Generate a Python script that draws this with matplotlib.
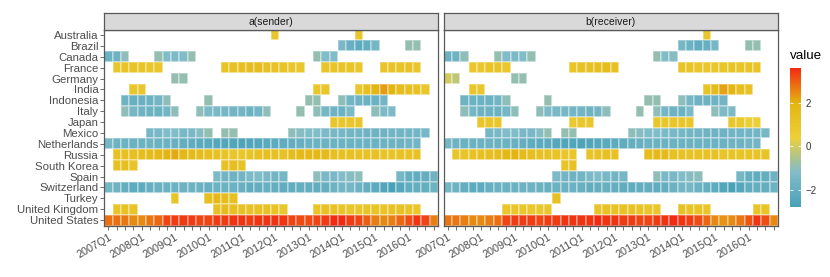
import numpy as np
import matplotlib
matplotlib.use("Agg")
import matplotlib.pyplot as plt
from matplotlib.colors import LinearSegmentedColormap, Normalize, to_rgb

plt.rcParams['font.family'] = ['Liberation Sans', 'DejaVu Sans']

N = np.nan

countries = ["Australia", "Brazil", "Canada", "France", "Germany", "India",
             "Indonesia", "Italy", "Japan", "Mexico", "Netherlands", "Russia",
             "South Korea", "Spain", "Switzerland", "Turkey", "United Kingdom",
             "United States"]
quarters = [f"{y}Q{q}" for y in range(2007, 2017) for q in range(1, 5)]

# --- a(sender): one value per quarter, 2007Q1 .. 2016Q4 ---
s_australia = [N, N, N, N, N, N, N, N, N, N,
               N, N, N, N, N, N, N, N, N, N,
               1.0, N, N, N, N, N, N, N, N, N,
               1.0, N, N, N, N, N, N, N, N, N]
s_brazil = [N, N, N, N, N, N, N, N, N, N,
            N, N, N, N, N, N, N, N, N, N,
            N, N, N, N, N, N, N, N, -1.4, -1.9,
            -2.2, -2.0, -1.5, N, N, N, -0.9, -0.9, N, N]
s_canada = [-1.8, -1.7, -1.0, N, N, N, -0.9, -1.2, -1.3, -1.2,
            -0.9, N, N, N, N, N, N, N, N, N,
            N, N, N, N, N, -0.9, -1.2, -1.2, N, N,
            N, N, N, N, N, N, N, N, N, N]
s_france = [N, 1.0, 1.1, 1.1, 1.1, 1.0, 1.0, N, N, N,
            N, N, N, N, 1.1, 1.2, 1.4, 1.5, 1.5, 1.3,
            1.2, 1.1, 1.0, 1.0, N, N, 1.1, 1.1, 1.1, 1.1,
            1.0, N, N, 1.1, 1.1, 1.1, 1.2, 1.0, N, N]
s_germany = [N, N, N, N, N, N, N, N, -0.9, -0.9,
             N, N, N, N, N, N, N, N, N, N,
             N, N, N, N, N, N, N, N, N, N,
             N, N, N, N, N, N, N, N, N, N]
s_india = [N, N, N, 1.0, 1.0, N, N, N, N, N,
           N, N, N, N, N, N, N, N, N, N,
           N, N, N, N, N, 1.0, 1.0, N, N, N,
           1.0, 1.4, 1.9, 2.3, 2.0, 1.5, 1.3, 1.2, 1.0, N]
s_indonesia = [N, N, -1.7, -1.9, -1.9, -1.8, -1.6, -1.0, N, N,
               N, N, -0.9, N, N, N, N, N, N, N,
               N, N, N, N, -0.9, -0.9, N, N, -1.0, -1.6,
               -1.7, -1.8, -1.8, -1.6, N, N, N, N, N, N]
s_italy = [N, N, -1.0, -1.5, -1.7, -1.8, -1.8, -1.6, -1.0, N,
           N, -1.0, -1.3, -1.4, -1.5, -1.6, -1.6, -1.8, -1.6, -1.0,
           N, N, N, -0.9, N, -1.0, -1.5, -1.7, -1.8, -1.3,
           N, N, -1.0, -1.3, -1.3, N, N, N, N, N]
s_japan = [N, N, N, N, N, N, N, N, N, N,
           N, N, N, N, N, N, N, N, N, N,
           N, N, N, N, N, N, N, 1.0, 1.0, 1.0,
           1.0, N, N, N, N, N, N, N, N, N]
s_mexico = [N, N, N, N, N, -1.5, -1.4, -1.2, -1.2, -1.4,
            -1.4, -1.1, -0.9, N, -0.9, -0.9, N, N, N, N,
            N, N, -1.0, -1.1, -1.2, -1.2, -1.3, -1.4, -1.5, -1.6,
            -1.6, -1.7, -1.7, -1.7, -1.6, -1.6, -1.6, -1.6, -1.5, N]
s_netherlands = [-1.5, -1.7, -1.8, -1.8, -1.8, -1.7, -1.8, -1.8, -1.9, -2.0,
                 -2.1, -2.3, -2.3, -2.4, -2.5, -2.5, -2.6, -2.5, -2.4, -2.3,
                 -2.2, -2.1, -2.0, -1.9, -1.8, -1.8, -1.8, -1.8, -1.8, -1.8,
                 -1.8, -1.8, -1.8, -1.8, -1.7, -1.7, -1.6, -1.6, N, N]
s_russia = [N, 1.2, 1.3, 1.4, 1.5, 1.6, 1.7, 2.0, 2.1, 1.8,
            1.6, 1.5, 1.4, 1.2, 1.1, 1.0, 1.0, 1.1, 1.3, 1.4,
            1.3, 1.2, 1.5, 1.7, 1.8, 1.8, 1.6, 1.4, 1.3, 1.3,
            1.2, 1.2, 1.2, 1.1, 1.1, 1.2, 1.2, 1.2, N, N]
s_south_korea = [N, 1.3, 1.4, 1.1, N, N, N, N, N, N,
                 N, N, N, N, 1.2, 1.4, 1.2, N, N, N,
                 N, N, N, N, N, N, N, N, N, N,
                 N, N, N, N, N, N, N, N, N, N]
s_spain = [N, N, N, N, N, N, N, N, N, N,
           N, N, N, -1.3, -1.6, -1.7, -1.6, -1.3, -1.2, -1.4,
           -1.6, -1.5, N, N, N, -1.0, -1.4, -1.4, -1.2, -1.1,
           -1.0, N, N, N, N, -1.5, -2.0, -2.1, -2.0, -1.7]
s_switzerland = [-1.5, -1.7, -2.0, -2.2, -2.2, -1.9, -1.8, -1.8, -1.8, -1.7,
                 -1.7, -1.8, -1.9, -1.8, -1.8, -1.8, -1.9, -2.1, -2.0, -1.9,
                 -2.0, -2.1, -2.1, -2.0, -2.0, -2.1, -2.0, -1.8, -1.6, -1.5,
                 -1.8, -2.0, -2.2, -2.5, -2.7, -2.4, -2.1, -2.0, -2.0, -1.8]
s_turkey = [N, N, N, N, N, N, N, N, 1.1, N,
            N, N, 1.4, 1.7, 1.5, 1.3, N, N, N, N,
            N, N, N, N, N, N, N, N, N, N,
            N, N, N, N, N, N, N, N, N, N]
s_uk = [N, 1.1, 1.2, 1.1, N, N, N, N, N, N,
        N, N, N, 1.3, 1.5, 1.4, 1.3, 1.2, 1.2, 1.2,
        1.1, 1.0, N, N, N, 1.1, 1.2, 1.2, 1.1, 1.0,
        1.0, 1.1, 1.1, 1.1, 1.2, 1.2, 1.1, 1.0, N, N]
s_us = [2.8, 2.8, 2.7, 2.5, 2.5, 2.7, 2.9, 3.3, 3.4, 3.4,
        3.4, 3.3, 3.3, 3.4, 3.4, 3.5, 3.5, 3.4, 3.5, 3.5,
        3.5, 3.5, 3.3, 3.2, 3.2, 3.3, 3.4, 3.6, 3.6, 3.4,
        3.3, 3.0, 2.6, 2.5, 2.6, 2.9, 3.2, 3.5, 3.3, 2.6]

# --- b(receiver) ---
r_australia = [N, N, N, N, N, N, N, N, N, N,
               N, N, N, N, N, N, N, N, N, N,
               N, N, N, N, N, N, N, N, N, N,
               N, 1.0, N, N, N, N, N, N, N, N]
r_brazil = [N, N, N, N, N, N, N, N, N, N,
            N, N, N, N, N, N, N, N, N, N,
            N, N, N, N, N, N, N, N, -1.5, -1.8,
            -2.1, -1.9, -1.5, N, N, N, -0.9, -0.9, N, N]
r_canada = [-1.8, -1.7, -1.0, N, N, N, -0.9, -1.2, -1.3, -1.2,
            -0.9, N, N, N, N, N, N, N, N, N,
            N, N, N, N, N, -0.9, -1.2, -1.1, N, N,
            N, N, N, N, N, N, N, N, N, N]
r_france = [N, N, N, 1.0, 1.0, 1.1, 1.1, 0.9, N, N,
            N, N, N, N, N, 1.1, 1.2, 1.3, 1.4, 1.5,
            1.3, N, N, N, N, N, N, N, 1.1, 1.1,
            1.0, 0.9, 0.9, 1.0, 1.1, 1.1, 1.1, 1.1, N, N]
r_germany = [0.0, -0.3, N, N, N, N, N, N, -0.9, -0.9,
             N, N, N, N, N, N, N, N, N, N,
             N, N, N, N, N, N, N, N, N, N,
             N, N, N, N, N, N, N, N, N, N]
r_india = [N, N, N, 1.0, 1.0, N, N, N, N, N,
           N, N, N, N, N, N, N, N, N, N,
           N, N, N, N, N, N, N, N, N, N,
           N, 1.1, 1.6, 2.2, 1.9, 1.4, 1.2, N, N, N]
r_indonesia = [N, N, -1.7, -1.8, -1.8, -1.8, -1.6, -1.0, N, N,
               N, N, -0.9, N, N, N, N, N, N, N,
               N, N, N, N, -0.9, -0.9, N, N, -1.0, -1.5,
               -1.7, -1.7, -1.7, -1.6, N, N, N, N, N, N]
r_italy = [N, N, -1.0, -1.5, -1.7, -1.8, -1.8, -1.5, -1.0, N,
           N, -1.0, -1.3, -1.4, -1.5, -1.6, -1.6, -1.7, -1.6, -1.0,
           N, N, N, -0.9, N, -1.0, -1.5, -1.7, -1.8, -1.3,
           N, N, -1.0, -1.3, -1.3, N, N, N, N, N]
r_japan = [N, N, N, N, 1.0, 1.0, 1.0, N, N, N,
           N, N, N, N, N, 0.8, 0.9, 1.0, N, N,
           N, N, N, N, N, 1.0, 1.0, 1.0, 1.0, 1.0,
           N, N, N, N, 1.0, 0.8, 0.5, 0.5, N, N]
r_mexico = [N, N, N, N, N, -1.5, -1.4, -1.2, -1.2, -1.4,
            -1.4, -1.1, -0.9, N, -0.9, -0.9, N, N, N, N,
            N, N, -1.0, -1.1, -1.2, -1.2, -1.3, -1.4, -1.5, -1.6,
            -1.6, -1.7, -1.7, -1.7, -1.6, -1.6, -1.6, -1.6, -1.5, N]
r_netherlands = [-1.5, -1.7, -1.8, -1.8, -1.8, -1.7, -1.8, -1.8, -1.9, -2.0,
                 -2.1, -2.3, -2.3, -2.4, -2.5, -2.5, -2.6, -2.5, -2.4, -2.3,
                 -2.2, -2.1, -2.0, -1.9, -1.8, -1.8, -1.8, -1.8, -1.8, -1.8,
                 -1.8, -1.8, -1.8, -1.8, -1.7, -1.7, -1.6, -1.6, N, N]
r_russia = [N, 1.0, 1.1, 1.2, 1.3, 1.4, 1.5, 1.8, 2.0, 1.6,
            1.4, 1.3, 1.2, 1.1, 1.0, 1.0, N, 1.1, 1.2, 1.3,
            1.2, N, N, N, 1.5, 1.7, 1.6, 1.3, 1.2, 1.2,
            1.2, 1.2, 1.2, 1.1, 1.1, 1.1, 1.1, 1.1, 1.1, N]
r_south_korea = [N, N, N, N, N, N, N, N, N, N,
                 N, N, N, N, 1.1, 1.2, N, N, N, N,
                 N, N, N, N, N, N, N, N, N, N,
                 N, N, N, N, N, N, N, N, N, N]
r_spain = [N, N, N, N, N, N, N, N, N, N,
           N, N, N, -1.3, -1.6, -1.7, -1.6, -1.3, -1.2, -1.4,
           -1.6, -1.5, N, N, N, -1.0, -1.4, -1.4, -1.2, -1.1,
           -1.0, N, N, N, N, -1.5, -2.0, -2.1, -2.0, -1.7]
r_switzerland = [-1.5, -1.7, -2.0, -2.2, -2.2, -1.9, -1.8, -1.8, -1.8, -1.7,
                 -1.7, -1.8, -1.9, -1.8, -1.8, -1.8, -1.9, -2.1, -2.0, -1.9,
                 -2.0, -2.1, -2.1, -2.0, -2.0, -2.1, -2.0, -1.8, -1.6, -1.5,
                 -1.8, -2.0, -2.2, -2.5, -2.7, -2.4, -2.1, -2.0, -2.0, -1.8]
r_turkey = [N, N, N, N, N, N, N, N, N, N,
            N, N, N, 1.3, N, N, N, N, N, N,
            N, N, N, N, N, N, N, N, N, N,
            N, N, N, N, N, N, N, N, N, N]
r_uk = [N, N, N, N, N, N, N, 1.0, 1.0, 1.0,
        0.9, 0.9, 1.0, N, N, N, N, N, 1.1, 1.2,
        1.2, 1.2, 1.2, 1.1, 1.0, 1.0, N, N, 1.2, 1.1,
        1.1, 1.0, N, N, N, N, N, 1.1, 1.1, N]
r_us = [2.7, 2.7, 2.6, 2.5, 2.5, 2.6, 2.8, 3.3, 3.4, 3.4,
        3.4, 3.3, 3.4, 3.4, 3.5, 3.5, 3.5, 3.5, 3.6, 3.5,
        3.5, 3.4, 3.4, 3.3, 3.3, 3.4, 3.5, 3.6, 3.5, 3.4,
        3.2, 2.9, 2.5, 2.4, 2.5, 2.7, 3.1, 3.5, 3.2, 2.5]

sender = [s_australia, s_brazil, s_canada, s_france, s_germany, s_india,
          s_indonesia, s_italy, s_japan, s_mexico, s_netherlands, s_russia,
          s_south_korea, s_spain, s_switzerland, s_turkey, s_uk, s_us]
receiver = [r_australia, r_brazil, r_canada, r_france, r_germany, r_india,
            r_indonesia, r_italy, r_japan, r_mexico, r_netherlands, r_russia,
            r_south_korea, r_spain, r_switzerland, r_turkey, r_uk, r_us]

# Zissou1 palette, spread evenly over the value range, slightly washed out
zissou = ["#3B9AB2", "#78B7C5", "#EBCC2A", "#E1AF00", "#F21A00"]
washed = [tuple(0.93 * c + 0.07 for c in to_rgb(h)) for h in zissou]
cmap = LinearSegmentedColormap.from_list("zissou1", washed)
norm = Normalize(vmin=-2.8, vmax=3.6)

W, H = 830, 277
fig = plt.figure(figsize=(W / 100, H / 100), dpi=100)


def px_axes(x0, y0, x1, y1):
    # place an axes by pixel box (top-left origin)
    return fig.add_axes([x0 / W, 1 - y1 / H, (x1 - x0) / W, (y1 - y0) / H])


border = "#595959"
panels = [("a(sender)", sender, 104.3, 438.0),
          ("b(receiver)", receiver, 443.7, 778.0)]

mesh = None
for i, (title, rows, x0, x1) in enumerate(panels):
    ax = px_axes(x0, 29.5, x1, 225.5)
    Z = np.ma.masked_invalid(np.array(rows, dtype=float))
    mesh = ax.pcolormesh(np.arange(len(quarters) + 1) - 0.5,
                         np.arange(len(countries) + 1) - 0.5, Z,
                         cmap=cmap, norm=norm,
                         edgecolors=(1, 1, 1, 0.3), linewidth=0.12)
    ax.set_xlim(-0.5, len(quarters) - 0.5)
    ax.set_ylim(len(countries) - 0.5, -0.5)

    ax.set_xticks(range(len(quarters)))
    ax.set_xticklabels([q if q.endswith("Q1") else "" for q in quarters],
                       rotation=30, ha="right", va="top",
                       rotation_mode="anchor", fontsize=7.8, color="#4D4D4D")
    ax.tick_params(axis="x", length=2.8, width=0.5, color="#333333", pad=2)
    if i == 0:
        ax.set_yticks(range(len(countries)))
        ax.set_yticklabels(countries, fontsize=8.2, color="#4D4D4D")
        ax.tick_params(axis="y", length=2.8, width=0.5, color="#333333", pad=1.5)
    else:
        ax.set_yticks([])
    for sp in ax.spines.values():
        sp.set_color(border)
        sp.set_linewidth(0.9)

    # facet strip
    st = px_axes(x0, 13.3, x1, 29.5)
    st.set_facecolor("#D9D9D9")
    st.set_xticks([])
    st.set_yticks([])
    for sp in st.spines.values():
        sp.set_color(border)
        sp.set_linewidth(0.9)
    st.text(0.5, 0.45, title, ha="center", va="center",
            fontsize=7.5, color="#1A1A1A", transform=st.transAxes)

# colour bar legend
cax = px_axes(790, 68, 801, 207)
cb = fig.colorbar(mesh, cax=cax, ticks=[-2, 0, 2])
cb.outline.set_visible(False)
cax.tick_params(direction="in", length=2.2, width=0.6, color="white",
                left=True, right=True, labelsize=7, labelcolor="#333333", pad=3)
fig.text(790 / W, 1 - 56 / H, "value", fontsize=9.6, va="center", ha="left")

fig.savefig("out.png", dpi=100)
